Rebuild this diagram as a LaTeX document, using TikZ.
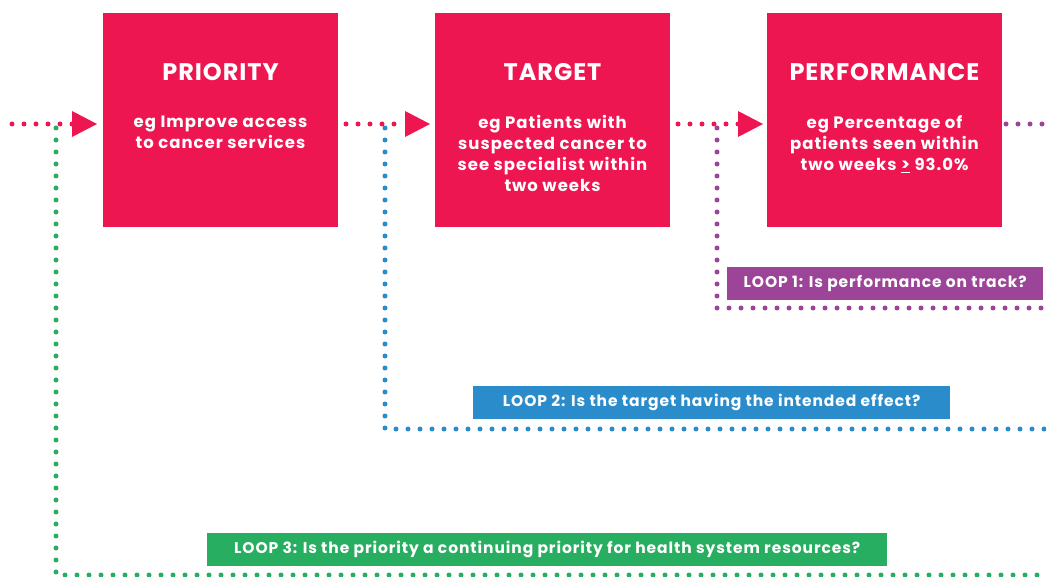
\documentclass[tikz,border=0pt]{standalone}
\usepackage{fontspec}
\setmainfont{Poppins}[LetterSpace=6]
\newfontfamily\titlefont{Poppins}[LetterSpace=4]
\usetikzlibrary{arrows.meta}
\definecolor{pinkc}{HTML}{EE1651}
\definecolor{purplec}{HTML}{9B4498}
\definecolor{bluec}{HTML}{2A8CCB}
\definecolor{greenc}{HTML}{27AE60}
\tikzset{
  mainbox/.style={fill=pinkc, minimum width=235pt, minimum height=214pt, anchor=north west, inner sep=0pt},
  title/.style={text=white, font=\titlefont\fontsize{24}{28}\selectfont\bfseries, anchor=center},
  body/.style={text=white, font=\fontsize{16.5}{21}\selectfont\bfseries, align=center, anchor=north},
  dots/.style={line width=5pt, line cap=round, dash pattern=on 0pt off 12pt},
  looplabel/.style={text=white, font=\fontsize{15.5}{18}\selectfont\bfseries, inner sep=0pt, minimum height=33pt, anchor=north west},
  tri/.style={fill=pinkc},
}
\begin{document}
\begin{tikzpicture}[x=1pt,y=-1pt]
\useasboundingbox (0,0) rectangle (1046,577);
% boxes
\node[mainbox] (b1) at (103,13) {};
\node[mainbox] (b2) at (435,13) {};
\node[mainbox] (b3) at (767,13) {};
\node[title] (t1) at (220.5,72) {PRIORITY};
\node[title] (t2) at (552.5,72) {TARGET};
\node[title] (t3) at (884.5,72) {PERFORMANCE};
\node[body] (d1) at (220.5,112) {eg Improve access\\to cancer services};
\node[body] (d2) at (552.5,112) {eg Patients with\\suspected cancer to\\see specialist within\\two weeks};
\node[body] (d3) at (884.5,112) {eg Percentage of\\patients seen within\\two weeks \underline{>} 93.0\%};
% arrow triangles
\coordinate (a1) at (72,124);
\coordinate (a2) at (405,124);
\coordinate (a3) at (738,124);
\fill[tri] (72,111) -- (97,124) -- (72,137) -- cycle;
\fill[tri] (405,111) -- (430,124) -- (405,137) -- cycle;
\fill[tri] (738,111) -- (763,124) -- (738,137) -- cycle;
% pink dotted lines
\coordinate (s1) at (12,124);
\coordinate (s2) at (346,124);
\coordinate (s3) at (678,124);
\draw[dots, pinkc] (s1) -- (a1);
\draw[dots, pinkc] (s2) -- (a2);
\draw[dots, pinkc] (s3) -- (a3);
% loop lines
\coordinate (p0) at (1006,124);
\coordinate (p1) at (1046,124);
\draw[dots, purplec] (p0) -- (p1);
\coordinate (pv) at (717,128);
\coordinate (pc) at (717,308);
\coordinate (pe) at (1046,308);
\draw[dots, purplec] (pv) -- (pc) -- (pe);
\coordinate (bv) at (385,128);
\coordinate (bc) at (385,429);
\coordinate (be) at (1046,429);
\draw[dots, bluec] (bv) -- (bc) -- (be);
\coordinate (gv) at (56,128);
\coordinate (gc) at (56,575);
\coordinate (ge) at (1046,575);
\draw[dots, greenc] (gv) -- (gc) -- (ge);
% labels
\node[looplabel, fill=purplec, minimum width=316pt] (l1) at (727,267) {LOOP 1: Is performance on track?};
\node[looplabel, fill=bluec, minimum width=477pt] (l2) at (473,386) {LOOP 2: Is the target having the intended effect?};
\node[looplabel, fill=greenc, minimum width=680pt] (l3) at (207,533) {LOOP 3: Is the priority a continuing priority for health system resources?};
\end{tikzpicture}
\end{document}
